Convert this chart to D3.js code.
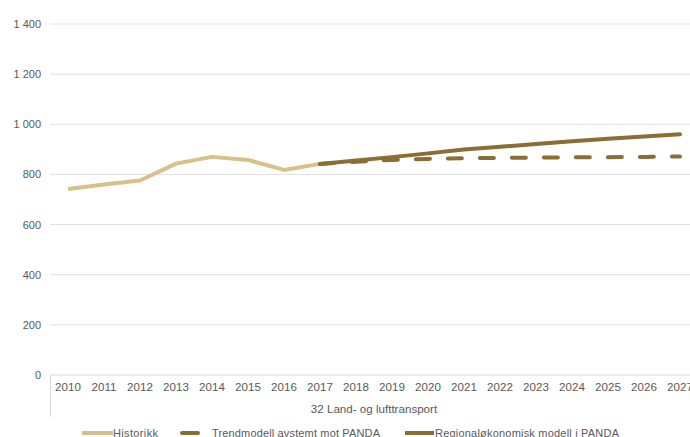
<!DOCTYPE html>
<html>
<head>
<meta charset="utf-8">
<script src="https://cdn.jsdelivr.net/npm/d3@7"></script>
<style>
  body { margin: 0; background: #fff; }
  svg { font-family: "Liberation Sans", Arial, sans-serif; }
  .grid line { stroke: #e0e0e0; stroke-width: 1; }
  .ylab { fill: #595959; font-size: 11px; }
  .xlab { fill: #595959; font-size: 11.6px; }
  .leglab { fill: #595959; font-size: 11px; }
</style>
</head>
<body>
<div id="chart"></div>
<script>
var years = ["2010","2011","2012","2013","2014","2015","2016","2017","2018","2019","2020","2021","2022","2023","2024","2025","2026","2027"];
var historikk = [742, 760, 776, 843, 870, 858, 818, 842];
var trendmodell = [842, 851, 858, 862, 865, 866, 867, 868, 869, 870, 872];
var regional = [842, 856, 869, 884, 899, 910, 921, 932, 942, 951, 960];
var yTicks = [0, 200, 400, 600, 800, 1000, 1200, 1400];
var groupLabel = "32 Land- og lufttransport";
var seriesNames = ["Historikk", "Trendmodell avstemt mot PANDA", "Regionaløkonomisk modell i PANDA"];

var W = 690, H = 437;
var margin = {left: 50, top: 24};
var plotRight = 698, plotBottom = 375;

var svg = d3.select("#chart").append("svg")
    .attr("width", W)
    .attr("height", H);

var x = d3.scaleBand()
    .domain(years)
    .range([margin.left, plotRight]);

var y = d3.scaleLinear()
    .domain([0, 1400])
    .range([plotBottom, margin.top]);

var fmt = function(v) { return d3.format(",")(v).replace(/,/g, " "); };

// gridlines
svg.append("g").attr("class", "grid")
  .selectAll("line")
  .data(yTicks.filter(function(d){ return d > 0; }))
  .enter().append("line")
  .attr("x1", margin.left).attr("x2", W)
  .attr("y1", function(d){ return y(d); })
  .attr("y2", function(d){ return y(d); });

// y labels
svg.selectAll(".ylab")
  .data(yTicks)
  .enter().append("text")
  .attr("class", "ylab")
  .attr("x", 41)
  .attr("y", function(d){ return y(d) + 4; })
  .style("text-anchor", "end")
  .text(fmt);

// x axis baseline + group separator
svg.append("line")
  .attr("x1", margin.left).attr("x2", W)
  .attr("y1", plotBottom).attr("y2", plotBottom)
  .style("stroke", "#d9d9d9");
svg.append("line")
  .attr("x1", margin.left + 0.5).attr("x2", margin.left + 0.5)
  .attr("y1", plotBottom).attr("y2", 417)
  .style("stroke", "#d9d9d9");

svg.selectAll(".xlab")
  .data(years)
  .enter().append("text")
  .attr("class", "xlab")
  .attr("x", function(d){ return x(d) + x.bandwidth() / 2; })
  .attr("y", 391)
  .style("text-anchor", "middle")
  .text(function(d){ return d; });

svg.append("text")
  .attr("class", "xlab")
  .attr("x", (margin.left + plotRight) / 2)
  .attr("y", 413)
  .style("text-anchor", "middle")
  .text(groupLabel);

var cx = function(yr) { return x(yr) + x.bandwidth() / 2; };
var line = d3.line()
  .x(function(d){ return cx(d.year); })
  .y(function(d){ return y(d.v); });

var histData = historikk.map(function(v, i){ return {year: years[i], v: v}; });
var trendData = trendmodell.map(function(v, i){ return {year: years[i + 7], v: v}; });
var regData = regional.map(function(v, i){ return {year: years[i + 7], v: v}; });

var cHist = "#d8bf8c", cDark = "#8c6d33";

svg.append("path").datum(histData)
  .attr("d", line)
  .style("fill", "none").style("stroke", cHist).style("stroke-width", 4)
  .style("stroke-linejoin", "round");

svg.append("path").datum(trendData)
  .attr("d", line)
  .style("fill", "none").style("stroke", cDark).style("stroke-width", 4)
  .style("stroke-dasharray", "14,18").style("stroke-linecap", "round");

svg.append("path").datum(regData)
  .attr("d", line)
  .style("fill", "none").style("stroke", cDark).style("stroke-width", 4)
  .style("stroke-linejoin", "round").style("stroke-linecap", "round");

// legend
var legend = [
  {name: seriesNames[0], x1: 82, x2: 113, tx: 113, w: 45, color: cHist},
  {name: seriesNames[1], x1: 182, x2: 198, tx: 212, w: 168, color: cDark},
  {name: seriesNames[2], x1: 405, x2: 434, tx: 435, w: 184, color: cDark}
];
var lg = svg.selectAll(".leg").data(legend).enter().append("g").attr("class", "leg");
lg.append("line")
  .attr("x1", function(d){ return d.x1; }).attr("x2", function(d){ return d.x2; })
  .attr("y1", 433).attr("y2", 433)
  .style("stroke", function(d){ return d.color; })
  .style("stroke-width", 4)
  .style("stroke-linecap", function(d, i){ return i == 1 ? "round" : "butt"; });
lg.append("text")
  .attr("class", "leglab")
  .attr("x", function(d){ return d.tx; })
  .attr("y", 437)
  .attr("textLength", function(d){ return d.w; })
  .attr("lengthAdjust", "spacing")
  .text(function(d){ return d.name; });
</script>
</body>
</html>
